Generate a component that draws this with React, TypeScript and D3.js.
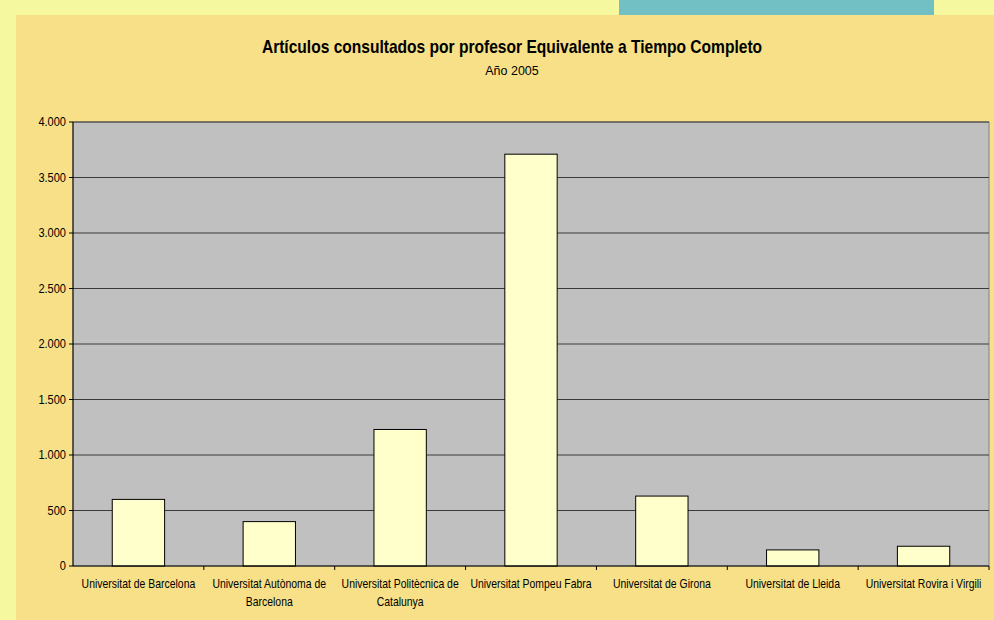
import * as React from "react";
import { useEffect } from "react";
import { scaleBand, scaleLinear, format } from "d3";

const universidades = [
  ["Universitat de Barcelona"],
  ["Universitat Autònoma de", "Barcelona"],
  ["Universitat Politècnica de", "Catalunya"],
  ["Universitat Pompeu Fabra"],
  ["Universitat de Girona"],
  ["Universitat de Lleida"],
  ["Universitat Rovira i Virgili"],
];
const articulos = [600, 400, 1230, 3710, 630, 145, 178];
const yTicks = [0, 500, 1000, 1500, 2000, 2500, 3000, 3500, 4000];

const W = 994;
const H = 620;
const plot = { left: 73, right: 989, top: 122, bottom: 566 };
const font = "'Liberation Sans', Arial, sans-serif";

// Spanish style thousands separator: 4.000
const fmt = (v: number) => format(",")(v).replace(/,/g, ".");

// horizontally squeezed text, to mimic the narrow Arial of the original
function Narrow({ x, y, sx, anchor = "middle", size, bold = false, children }: any) {
  return (
    <g transform={`translate(${x},${y}) scale(${sx},1)`}>
      <text textAnchor={anchor} dy="0.35em" fontFamily={font} fontSize={size} fontWeight={bold ? "bold" : "normal"} fill="#000">
        {children}
      </text>
    </g>
  );
}

export default function App() {
  useEffect(() => {
    document.body.style.margin = "0";
  }, []);

  const x = scaleBand<number>()
    .domain(articulos.map((_, i) => i))
    .range([plot.left, plot.right])
    .paddingInner(0.6)
    .paddingOuter(0.3);
  const step = (plot.right - plot.left) / articulos.length;
  const y = scaleLinear().domain([0, 4000]).range([plot.bottom, plot.top]);

  return (
    <svg width={W} height={H} style={{ display: "block" }}>
      <rect width={W} height={H} fill="#f6f89f" />
      <rect x={619} y={0} width={315} height={15} fill="#72bfc4" />
      <rect x={16} y={15} width={W - 16} height={H - 15} fill="#f7e087" />

      <Narrow x={512} y={47} sx={0.89} size={17.5} bold>
        Artículos consultados por profesor Equivalente a Tiempo Completo
      </Narrow>
      <Narrow x={512} y={70} sx={0.96} size={13}>
        Año 2005
      </Narrow>

      <rect
        x={plot.left}
        y={plot.top}
        width={plot.right - plot.left}
        height={plot.bottom - plot.top}
        fill="#c0c0c0"
        stroke="#808080"
        strokeWidth={1}
      />

      {yTicks.map((t) => (
        <g key={t}>
          {t > 0 && (
            <line x1={plot.left} x2={plot.right} y1={y(t)} y2={y(t)} stroke="#3a3a3a" strokeWidth={1} />
          )}
          <line x1={plot.left - 4} x2={plot.left} y1={y(t)} y2={y(t)} stroke="#000" />
          <Narrow x={plot.left - 7} y={y(t)} sx={0.92} size={12} anchor="end">
            {fmt(t)}
          </Narrow>
        </g>
      ))}

      {articulos.map((v, i) => (
        <rect
          key={i}
          x={x(i)}
          y={y(v)}
          width={x.bandwidth()}
          height={y(0) - y(v)}
          fill="#ffffcc"
          stroke="#000"
          strokeWidth={1}
        />
      ))}

      <line x1={plot.left} x2={plot.left} y1={plot.top} y2={plot.bottom} stroke="#000" />
      <line x1={plot.left} x2={plot.right} y1={plot.bottom} y2={plot.bottom} stroke="#000" />
      {articulos.map((_, i) => (
        <line
          key={i}
          x1={plot.left + step * (i + 1)}
          x2={plot.left + step * (i + 1)}
          y1={plot.bottom}
          y2={plot.bottom + 4}
          stroke="#000"
        />
      ))}

      {universidades.map((lines, i) =>
        lines.map((l, j) => (
          <Narrow key={`${i}-${j}`} x={plot.left + step * (i + 0.5)} y={plot.bottom + 18 + j * 18} sx={0.87} size={12}>
            {l}
          </Narrow>
        ))
      )}
    </svg>
  );
}
